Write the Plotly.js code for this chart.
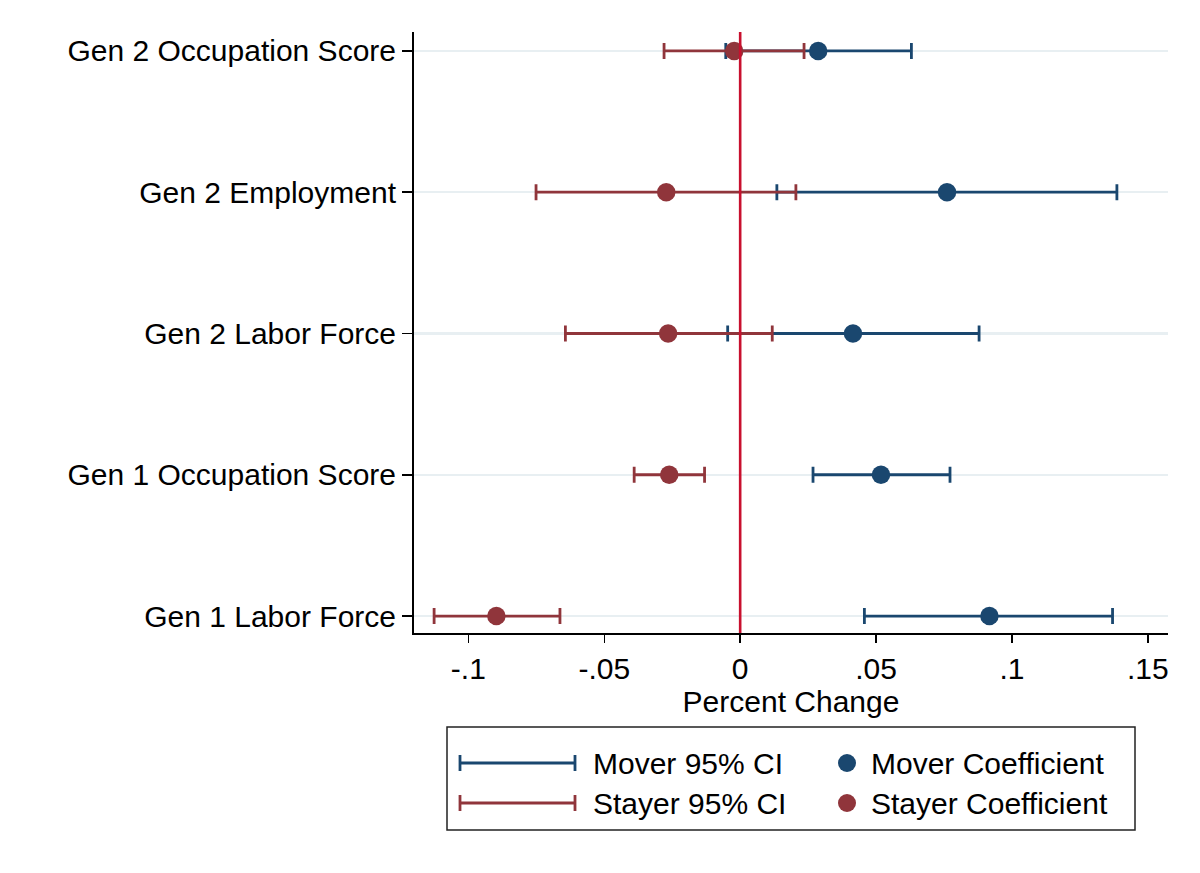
<!DOCTYPE html>
<html>
<head>
<meta charset="utf-8">
<script src="https://cdn.plot.ly/plotly-3.0.1.min.js"></script>
<style>html,body{margin:0;padding:0;background:#fff;}#chart{width:1200px;height:873px;}</style>
</head>
<body>
<div id="chart"></div>
<script>
// Data (bottom to top)
const categories = ['Gen 1 Labor Force', 'Gen 1 Occupation Score', 'Gen 2 Labor Force', 'Gen 2 Employment', 'Gen 2 Occupation Score'];
const moverCoef = [0.0917, 0.0518, 0.0415, 0.0761, 0.0287];
const moverLo   = [0.0457, 0.0268, -0.0046, 0.0135, -0.0053];
const moverHi   = [0.1370, 0.0772, 0.0879, 0.1386, 0.0630];
const stayerCoef = [-0.0897, -0.0261, -0.0265, -0.0272, -0.0022];
const stayerLo   = [-0.1126, -0.0390, -0.0643, -0.0751, -0.0280];
const stayerHi   = [-0.0663, -0.0131, 0.0118, 0.0205, 0.0235];
const xTickVals = [-0.1, -0.05, 0, 0.05, 0.1, 0.15];
const xTickText = ['-.1', '-.05', '0', '.05', '.1', '.15'];
const legendLabels = ['Mover 95% CI', 'Mover Coefficient', 'Stayer 95% CI', 'Stayer Coefficient'];

const NAVY = '#1a476f';
const MAROON = '#90353b';
const ZERO = '#c8102e';
const FONT = 'Liberation Sans, Arial, Helvetica, sans-serif';
const FS = 30;

function ciTrace(coef, lo, hi, color) {
  return {
    type: 'scatter', mode: 'markers',
    x: coef, y: categories,
    marker: {size: 18.5, color: color},
    error_x: {
      type: 'data', symmetric: false,
      array: hi.map((h, i) => h - coef[i]),
      arrayminus: lo.map((l, i) => coef[i] - l),
      color: color, thickness: 2.8, width: 8
    },
    showlegend: false, hoverinfo: 'x+y'
  };
}

const traces = [
  ciTrace(moverCoef, moverLo, moverHi, NAVY),
  ciTrace(stayerCoef, stayerLo, stayerHi, MAROON)
];

// plot area in pixels
const L = 414, R = 1168, T = 32, B = 633;
const W = R - L, H = B - T;
const px = x => (x - L) / W;
const py = y => (B - y) / H;

const shapes = [
  {type: 'line', xref: 'x', yref: 'paper', x0: 0, x1: 0, y0: 0, y1: 1,
   line: {color: ZERO, width: 2.6}, layer: 'above'},
  // legend box
  {type: 'rect', xref: 'paper', yref: 'paper', x0: px(447), x1: px(1135), y0: py(727), y1: py(830),
   line: {color: '#222', width: 1.5}, fillcolor: 'rgba(0,0,0,0)'}
];
const annotations = [];
const rows = [763, 803];
const colors = [NAVY, MAROON];
rows.forEach((ry, i) => {
  const c = colors[i];
  shapes.push({type: 'line', xref: 'paper', yref: 'paper', x0: px(460), x1: px(575), y0: py(ry), y1: py(ry), line: {color: c, width: 2.8}});
  shapes.push({type: 'line', xref: 'paper', yref: 'paper', x0: px(460), x1: px(460), y0: py(ry - 8), y1: py(ry + 8), line: {color: c, width: 2.8}});
  shapes.push({type: 'line', xref: 'paper', yref: 'paper', x0: px(575), x1: px(575), y0: py(ry - 8), y1: py(ry + 8), line: {color: c, width: 2.8}});
  shapes.push({type: 'circle', xref: 'paper', yref: 'paper', x0: px(838), x1: px(856), y0: py(ry - 9), y1: py(ry + 9), line: {color: c, width: 0}, fillcolor: c});
  annotations.push({xref: 'paper', yref: 'paper', x: px(591), y: py(ry), xanchor: 'left', yanchor: 'middle', showarrow: false,
    text: legendLabels[i * 2], font: {family: FONT, size: FS, color: '#000'}});
  annotations.push({xref: 'paper', yref: 'paper', x: px(869), y: py(ry), xanchor: 'left', yanchor: 'middle', showarrow: false,
    text: legendLabels[i * 2 + 1], font: {family: FONT, size: FS, color: '#000'}});
});

const layout = {
  width: 1200, height: 873,
  margin: {l: L, r: 1200 - R, t: T, b: 873 - B, pad: 0},
  paper_bgcolor: '#fff', plot_bgcolor: '#fff',
  font: {family: FONT, size: FS, color: '#000'},
  showlegend: false,
  xaxis: {
    range: [-0.12, 0.1574], tickvals: xTickVals, ticktext: xTickText,
    showline: true, linecolor: '#000', linewidth: 2, mirror: false,
    ticks: 'outside', ticklen: 8, tickwidth: 1.5, tickcolor: '#000',
    showgrid: false, zeroline: false,
    tickfont: {family: FONT, size: FS, color: '#000'},
    title: {text: 'Percent Change', font: {family: FONT, size: FS, color: '#000'}, standoff: 0},
    automargin: false
  },
  yaxis: {
    type: 'category', categoryorder: 'array', categoryarray: categories,
    range: [-0.12, 4.134],
    showline: true, linecolor: '#000', linewidth: 2,
    ticks: 'outside', ticklen: 10, tickwidth: 1.5, tickcolor: '#000',
    showgrid: true, gridcolor: '#e8eff2', gridwidth: 2.5, zeroline: false,
    tickfont: {family: FONT, size: FS, color: '#000'},
    automargin: false
  },
  shapes: shapes,
  annotations: annotations
};

Plotly.newPlot('chart', traces, layout, {displayModeBar: false, staticPlot: true});
</script>
</body>
</html>
